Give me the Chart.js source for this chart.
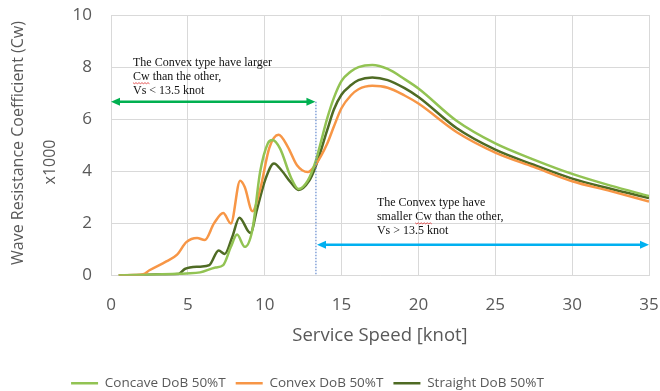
<!DOCTYPE html>
<html>
<head>
<meta charset="utf-8">
<script src="https://cdn.jsdelivr.net/npm/chart.js@4/dist/chart.umd.min.js"></script>
<style>
  html, body { margin: 0; padding: 0; background: #fff; }
</style>
</head>
<body>
<canvas id="graficoCw" width="660" height="391"></canvas>
<script>
// dados (Cw x1000 vs velocidade)
var concaveSpeed = [0.5, 2, 3, 4, 4.9, 5.8, 6.8, 7.3, 7.8, 8.2, 8.7, 9.2, 9.7, 10.2, 10.5, 11.0, 11.7, 12.2, 12.8, 13.3, 13.6, 14.07, 14.5, 15, 15.6, 16.1, 17.0, 18.0, 19.1, 20, 22.5, 25, 27.5, 30, 32.5, 35];
var concaveCw    = [0, 0.02, 0.04, 0.06, 0.08, 0.12, 0.31, 0.4, 1.1, 1.57, 1.1, 1.76, 3.97, 5.07, 5.2, 4.87, 3.77, 3.32, 3.64, 4.36, 5.0, 6.04, 6.82, 7.47, 7.83, 8.0, 8.08, 7.93, 7.54, 7.18, 5.93, 5.07, 4.45, 3.9, 3.45, 3.05];

var convexSpeed = [0.5, 1.5, 2.1, 2.5, 3.6, 4.3, 4.9, 5.6, 6.1, 6.7, 7.3, 7.8, 8.4, 8.7, 9.2, 9.7, 10.3, 10.9, 11.5, 12.1, 12.8, 13.3, 14.07, 14.5, 15, 15.6, 16.1, 17, 18, 19.1, 20, 22.5, 25, 27.5, 30, 32.5, 35];
var convexCw    = [0, 0.02, 0.05, 0.2, 0.54, 0.8, 1.28, 1.44, 1.36, 2.0, 2.4, 2.0, 3.64, 3.4, 2.47, 3.3, 4.9, 5.4, 4.94, 4.23, 3.97, 4.25, 5.07, 5.72, 6.43, 6.91, 7.15, 7.28, 7.21, 6.91, 6.6, 5.5, 4.72, 4.17, 3.62, 3.24, 2.84];

var straightSpeed = [0.5, 2, 3, 4.4, 4.8, 5.8, 6.4, 7.0, 7.4, 7.9, 8.35, 9.07, 9.5, 10.05, 10.6, 11.1, 11.7, 12.2, 12.9, 13.3, 14.07, 14.5, 15, 15.6, 16.1, 17, 18, 19.1, 20, 22.5, 25, 27.5, 30, 32.5, 35];
var straightCw    = [0, 0.02, 0.04, 0.06, 0.25, 0.34, 0.4, 0.96, 0.83, 1.5, 2.22, 1.63, 2.54, 3.7, 4.3, 4.03, 3.57, 3.28, 3.64, 4.16, 5.59, 6.37, 6.95, 7.3, 7.5, 7.6, 7.5, 7.19, 6.85, 5.65, 4.83, 4.25, 3.72, 3.33, 2.97];

var seriesNames = ['Concave DoB 50%T', 'Convex DoB 50%T', 'Straight DoB 50%T'];

// anotacoes: [inicio, fim, nivel Cw]
var limiteVs = 13.3;
var setaMenor = [0, 13.3, 6.67];
var setaMaior = [13.4, 35, 1.18];
var textoMenor = ['The Convex type have larger', 'Cw than the other,', 'Vs < 13.5 knot'];
var textoMaior = ['The Convex type have', 'smaller Cw than the other,', 'Vs > 13.5 knot'];

var corCinza = '#595959';
var fonteEixo = "'Open Sans', sans-serif";

function pares(xs, ys){
    return xs.map(function(x, i){ return {x: x, y: ys[i]}; });
}

function serie(nome, xs, ys, cor){
    return {
        label: nome,
        data: pares(xs, ys),
        borderColor: cor,
        backgroundColor: cor,
        borderWidth: 2.5,
        pointRadius: 0,
        showLine: true,
        cubicInterpolationMode: 'monotone'
    };
}

function seta(ctx, x1, x2, y, cor){
    var c = 9, h = 4;
    ctx.save();
    ctx.strokeStyle = cor;
    ctx.fillStyle = cor;
    ctx.lineWidth = 2.5;
    ctx.beginPath();
    ctx.moveTo(x1 + c - 1, y);
    ctx.lineTo(x2 - c + 1, y);
    ctx.stroke();
    ctx.beginPath();
    ctx.moveTo(x1, y); ctx.lineTo(x1 + c, y - h); ctx.lineTo(x1 + c, y + h); ctx.closePath();
    ctx.fill();
    ctx.beginPath();
    ctx.moveTo(x2, y); ctx.lineTo(x2 - c, y - h); ctx.lineTo(x2 - c, y + h); ctx.closePath();
    ctx.fill();
    ctx.restore();
}

function texto(ctx, linhas, x, y, palavra){
    ctx.save();
    ctx.font = "12px 'Liberation Serif', serif";
    ctx.fillStyle = '#111';
    ctx.textBaseline = 'middle';
    linhas.forEach(function(l, i){
        var ly = y + i * 14.3;
        ctx.fillText(l, x, ly);
        var p = l.indexOf(palavra);
        if (p >= 0 && i === 1) {
            // sublinhado ondulado (corretor ortografico)
            var wx = x + ctx.measureText(l.substring(0, p)).width;
            var ww = ctx.measureText(palavra).width;
            ctx.strokeStyle = '#E03030';
            ctx.lineWidth = 0.8;
            ctx.beginPath();
            for (var k = 0; k <= ww; k += 1.5) {
                var yy = ly + 6 + ((Math.round(k / 1.5) % 2) ? 1 : 0);
                if (k === 0) ctx.moveTo(wx + k, yy); else ctx.lineTo(wx + k, yy);
            }
            ctx.stroke();
        }
    });
    ctx.restore();
}

function tituloY(ctx, txt, x, y){
    ctx.save();
    ctx.fillStyle = corCinza;
    ctx.font = "16px " + fonteEixo;
    ctx.textAlign = 'center';
    ctx.textBaseline = 'middle';
    ctx.translate(x, y);
    ctx.rotate(-Math.PI / 2);
    ctx.fillText(txt, 0, 0);
    ctx.restore();
}

var anotacoes = {
    id: 'anotacoes',
    afterLayout: function(chart){
        // legenda do Excel fica um pouco deslocada para a esquerda
        chart.legend.left -= 34;
    },
    afterDatasetsDraw: function(chart){
        var ctx = chart.ctx, sx = chart.scales.x, sy = chart.scales.y;
        // linha pontilhada em 13.5 knot
        ctx.save();
        ctx.strokeStyle = '#4472C4';
        ctx.lineWidth = 1;
        ctx.setLineDash([1.5, 1.5]);
        ctx.beginPath();
        ctx.moveTo(sx.getPixelForValue(limiteVs) + 0.5, sy.getPixelForValue(setaMenor[2]));
        ctx.lineTo(sx.getPixelForValue(limiteVs) + 0.5, sy.getPixelForValue(0));
        ctx.stroke();
        ctx.restore();

        seta(ctx, sx.getPixelForValue(setaMenor[0]), sx.getPixelForValue(setaMenor[1]), sy.getPixelForValue(setaMenor[2]), '#00B050');
        seta(ctx, sx.getPixelForValue(setaMaior[0]), sx.getPixelForValue(setaMaior[1]), sy.getPixelForValue(setaMaior[2]), '#00B0F0');

        texto(ctx, textoMenor, sx.getPixelForValue(1.43), sy.getPixelForValue(8.18), 'Cw');
        texto(ctx, textoMaior, sx.getPixelForValue(17.3), sy.getPixelForValue(2.8), 'Cw');
    },
    afterDraw: function(chart){
        // titulo do eixo Y em duas linhas
        tituloY(chart.ctx, 'Wave Resistance Coefficient (Cw)', 18, 143);
        tituloY(chart.ctx, 'x1000', 50, 162);
    }
};

var grafico = new Chart(document.getElementById('graficoCw').getContext('2d'), {
    type: 'scatter',
    data: {
        datasets: [
            serie(seriesNames[0], concaveSpeed, concaveCw, '#92C353'),
            serie(seriesNames[1], convexSpeed, convexCw, '#F79646'),
            serie(seriesNames[2], straightSpeed, straightCw, '#4F6B24')
        ]
    },
    options: {
        responsive: false,
        animation: false,
        devicePixelRatio: 1,
        layout: { padding: { top: 15, right: 11, left: 0, bottom: -9 } },
        plugins: {
            tooltip: { enabled: false },
            legend: {
                position: 'bottom',
                labels: {
                    usePointStyle: true,
                    pointStyle: 'line',
                    pointStyleWidth: 27,
                    padding: 10,
                    color: corCinza,
                    font: { family: fonteEixo, size: 13.5 }
                }
            }
        },
        scales: {
            x: {
                type: 'linear',
                min: 0, max: 35,
                grid: { color: '#D9D9D9', drawTicks: false },
                border: { color: '#D9D9D9' },
                ticks: { stepSize: 5, padding: 19, color: corCinza, font: { family: fonteEixo, size: 17 } },
                title: { display: true, text: 'Service Speed [knot]', color: corCinza, padding: { top: 0, bottom: 20 }, font: { family: fonteEixo, size: 18.5 } },
                afterFit: function(scale){
                    scale.height = 91;
                    scale.paddingLeft = 0;
                    scale.paddingRight = 0;
                }
            },
            y: {
                min: 0, max: 10,
                grid: { color: '#D9D9D9', drawTicks: false },
                border: { color: '#D9D9D9' },
                ticks: { stepSize: 2, padding: 19, color: corCinza, font: { family: fonteEixo, size: 17 } },
                afterFit: function(scale){
                    scale.width = 111;
                    scale.paddingTop = 0;
                    scale.paddingBottom = 0;
                }
            }
        }
    },
    plugins: [anotacoes]
});
</script>
</body>
</html>
